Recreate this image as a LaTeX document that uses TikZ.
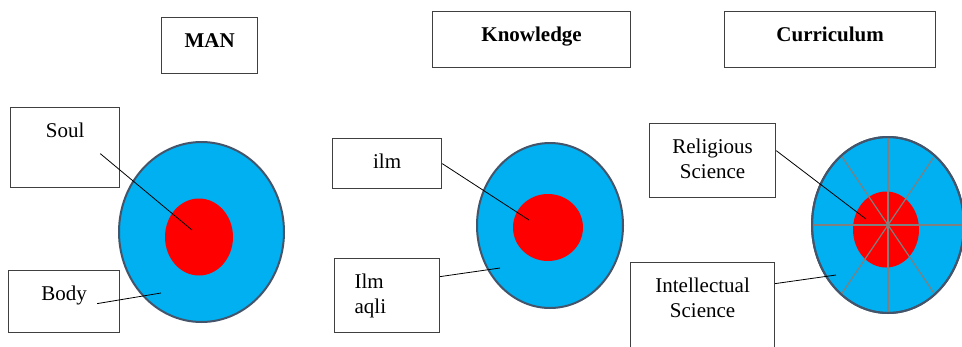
\documentclass[tikz,border=0pt]{standalone}
\usepackage{fontspec}
\setmainfont{Liberation Serif}
\usetikzlibrary{positioning}
\definecolor{skyblue}{HTML}{00B0F0}
\definecolor{corered}{HTML}{FF0000}
\definecolor{rimgray}{HTML}{44546A}
\definecolor{boxgray}{HTML}{404040}
\definecolor{spokegray}{HTML}{7F7F7F}
\tikzset{every node/.append style={font=\fontsize{21}{25}\selectfont}}
\tikzset{box/.style={draw=boxgray,line width=1.2pt,anchor=north west,inner xsep=0pt,inner ysep=0pt,text height=30pt,align=center}}
\tikzset{head/.style={box,font=\fontsize{21}{25}\selectfont\bfseries,text depth=26pt}}
\tikzset{lead/.style={line width=0.8pt}}
\tikzset{outer/.style={fill=skyblue,draw=rimgray,line width=2pt}}
\tikzset{spoke/.style={draw=spokegray,line width=1.2pt}}

\begin{document}
\begin{tikzpicture}[x=1pt,y=-1pt]
\useasboundingbox (0,0) rectangle (962,346);
% headings
\node[head,minimum width=96pt] (man) at (161,17) {MAN};
\node[head,minimum width=198pt] (know) at (432,11) {Knowledge};
\node[head,minimum width=211pt] (curr) at (724,11) {Curriculum};
% man
\coordinate (mc) at (201.5,232);
\draw[outer] (mc) ellipse (82.5 and 90);
\fill[corered] (199,237) ellipse (34 and 38.5);
\coordinate (soultip) at (192,230);
\coordinate (bodytip) at (161,293);
\node[box,minimum width=109pt,text depth=50pt] (soul) at (10,107) {Soul};
\node[box,minimum width=111pt,text depth=32pt] (body) at (8,270) {Body};
\draw[lead] ([xshift=-20pt,yshift=-6pt]soul.east) -- (soultip);
\draw[lead] ([xshift=-23pt,yshift=-2pt]body.east) -- (bodytip);
% knowledge
\coordinate (kc) at (550,225.5);
\draw[outer] (kc) ellipse (73 and 82.5);
\fill[corered] (548,227.5) ellipse (35 and 33.5);
\coordinate (ilmtip) at (529,220);
\coordinate (aqlitip) at (500,268);
\node[box,minimum width=109pt,text depth=20pt] (ilm) at (332,138) {ilm};
\node[box,minimum width=105pt,text depth=44pt,text width=65pt,align=left] (aqli) at (334,258) {Ilm\\aqli};
\draw[lead] (ilm.east) -- (ilmtip);
\draw[lead] ([yshift=19pt]aqli.east) -- (aqlitip);
% curriculum
\coordinate (cc) at (888,225);
\draw[outer] (cc) ellipse (76 and 88);
\fill[corered] (886,229.5) ellipse (33 and 38);
\foreach \a in {0,52,90,128,180,232,270,308}
  \draw[spoke] (cc) -- +({76*cos(\a)},{88*sin(\a)});
\draw[draw=rimgray,line width=2pt] (cc) ellipse (76 and 88);
\coordinate (religtip) at (866,219);
\coordinate (inteltip) at (836,275);
\node[box,text width=126pt,text depth=44pt] (relig) at (649,123) {Religious\\Science};
\node[box,text width=144pt,text depth=60pt] (intel) at (630,262) {Intellectual\\Science};
\draw[lead] ([yshift=10pt]relig.east) -- (religtip);
\draw[lead] ([yshift=24pt]intel.east) -- (inteltip);
\end{tikzpicture}
\end{document}
